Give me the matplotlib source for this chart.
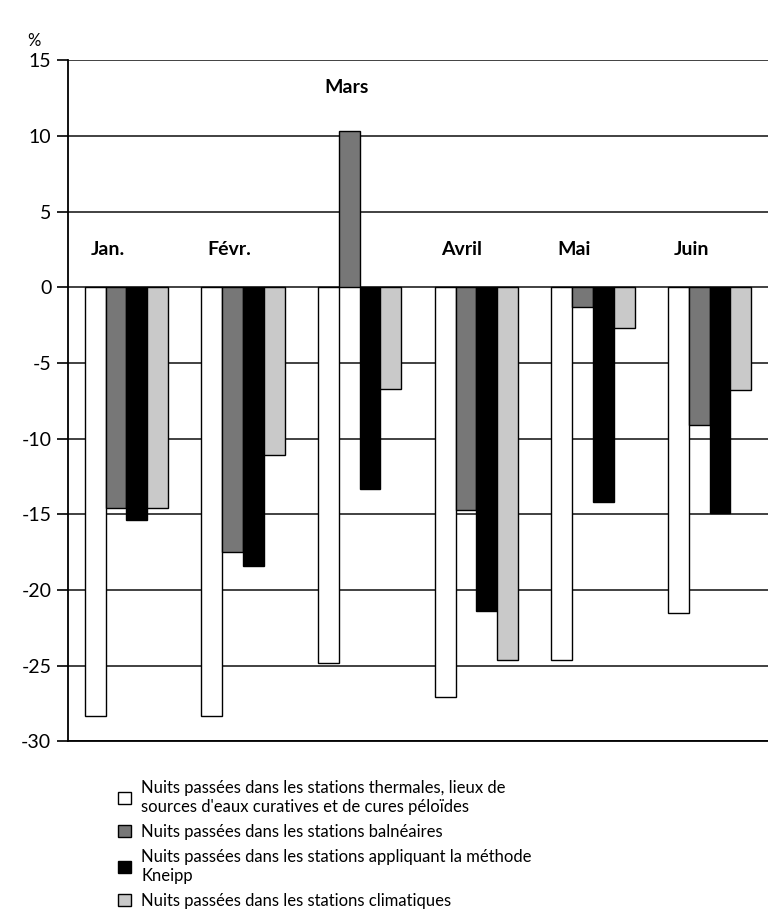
import numpy as np
import matplotlib.pyplot as plt
from matplotlib.patches import Patch

plt.rcParams['font.family'] = ['Lato', 'DejaVu Sans']
plt.rcParams['axes.unicode_minus'] = False

# ====== Data ======
months = ["Jan.", "Févr.", "Mars", "Avril", "Mai", "Juin"]
thermales = [-28.3, -28.3, -24.8, -27.1, -24.6, -21.5]
balneaires = [-14.6, -17.5, 10.3, -14.7, -1.3, -9.1]
kneipp = [-15.4, -18.4, -13.3, -21.4, -14.2, -14.9]
climatiques = [-14.6, -11.1, -6.7, -24.6, -2.7, -6.8]
label_y = [2.5, 2.5, 13.2, 2.5, 2.5, 2.5]

series = [thermales, balneaires, kneipp, climatiques]
colors = ["white", "#777777", "black", "#c9c9c9"]
labels = [
    "Nuits passées dans les stations thermales, lieux de\nsources d'eaux curatives et de cures péloïdes",
    "Nuits passées dans les stations balnéaires",
    "Nuits passées dans les stations appliquant la méthode\nKneipp",
    "Nuits passées dans les stations climatiques",
]

fig = plt.figure(figsize=(7.68, 9.13), dpi=100)
ax = fig.add_axes([0.0885, 0.188, 0.9115, 0.746])

x = np.arange(len(months))
w = 0.178
for k, (vals, c) in enumerate(zip(series, colors)):
    ax.bar(x + (k - 1.5) * w, vals, width=w, color=c, edgecolor="black",
           linewidth=1.0, zorder=3)

# month names above the groups
for i, m in enumerate(months):
    ax.text(x[i] - 2 * w + 0.05, label_y[i], m, fontsize=14, fontweight="bold",
            ha="left", va="center", zorder=4)

ax.set_xlim(-0.5, len(months) - 0.5)
ax.set_ylim(-30, 15)
ax.set_yticks(np.arange(-30, 16, 5))
ax.set_yticklabels([str(v) for v in range(-30, 16, 5)], fontsize=14)
ax.set_xticks([])
ax.yaxis.grid(True, color="#333333", linewidth=1.3, zorder=0)
ax.tick_params(axis="y", length=8, width=1.2, pad=4)
for s in ["top", "right"]:
    ax.spines[s].set_visible(False)
ax.spines["left"].set_linewidth(1.3)
ax.spines["bottom"].set_linewidth(1.3)

fig.text(0.036, 0.955, "%", fontsize=12, ha="left", va="center")

handles = [Patch(facecolor=c, edgecolor="black", linewidth=1.0) for c in colors]
fig.legend(handles, labels, loc="upper left", bbox_to_anchor=(0.145, 0.153),
           frameon=False, fontsize=12, handlelength=0.8, handleheight=0.8,
           handletextpad=0.6, labelspacing=0.55, borderaxespad=0)

fig.savefig("out.png", dpi=100)
